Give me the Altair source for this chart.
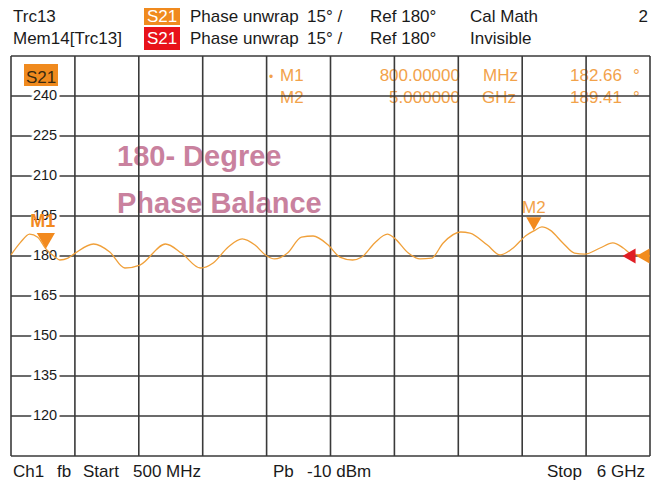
import altair as alt
import pandas as pd

# ---- data ----
freq_ghz = [0.5, 0.58, 0.66, 0.73, 0.8, 0.88, 0.92, 0.99, 1.05, 1.21,
            1.35, 1.48, 1.61, 1.83, 1.97, 2.13, 2.24, 2.37, 2.49, 2.6,
            2.69, 2.77, 2.88, 3.0, 3.1, 3.23, 3.33, 3.44, 3.52, 3.63,
            3.74, 3.8, 3.92, 4.02, 4.12, 4.22, 4.37, 4.45, 4.6, 4.71,
            4.81, 4.94, 5.0, 5.07, 5.14, 5.25, 5.35, 5.44, 5.57, 5.68,
            5.77, 5.83, 6.0]
phase_deg = [180.4, 185.0, 188.2, 187.0, 182.66, 179.6, 178.5, 179.2, 181.0, 184.5,
             181.5, 175.5, 176.6, 184.5, 181.0, 175.5, 177.4, 183.4, 186.4, 184.1,
             180.4, 178.9, 181.1, 187.1, 187.5, 184.1, 179.6, 178.5, 179.6, 184.9,
             188.2, 186.7, 181.1, 178.9, 179.2, 184.9, 189.0, 188.6, 184.1, 180.4,
             182.6, 187.9, 189.41, 190.9, 189.7, 184.9, 181.1, 180.7, 183.0, 184.9,
             183.0, 181.0, 180.0]

x_grid = [0.5, 1.05, 1.6, 2.15, 2.7, 3.25, 3.8, 4.35, 4.9, 5.45, 6.0]
y_grid = [105, 120, 135, 150, 165, 180, 195, 210, 225, 240, 255]
y_labels = [120, 135, 150, 165, 180, 195, 210, 225, 240]

marker_names = ["M1", "M2"]
marker_freq = [0.8, 5.0]
marker_val = [182.66, 189.41]
ref_level = [180]

W, H = 639, 400
FONT = "Liberation Sans"
xs = alt.Scale(domain=[0.5, 6.0], nice=False, zero=False)
ys = alt.Scale(domain=[105, 255], nice=False, zero=False)

trace_df = pd.DataFrame({"f": freq_ghz, "p": phase_deg})
xg_df = pd.DataFrame({"f": x_grid})
yg_df = pd.DataFrame({"p": y_grid})
yl_df = pd.DataFrame({"p": y_labels, "t": [str(v) for v in y_labels]})
mk_df = pd.DataFrame({"m": marker_names, "f": marker_freq, "p": marker_val})
ref_df = pd.DataFrame({"p": ref_level})


def txt(s, x, y, size=17, color="#1a1a1a", align="left", weight="normal"):
    return alt.Chart(pd.DataFrame({"t": [s]})).mark_text(
        align=align, baseline="alphabetic", fontSize=size, color=color,
        fontWeight=weight, font=FONT
    ).encode(text="t:N", x=alt.value(x), y=alt.value(y))


def box(x1, x2, y1, y2, color):
    return alt.Chart(pd.DataFrame({"a": [0]})).mark_rect(color=color).encode(
        x=alt.value(x1), x2=alt.value(x2), y=alt.value(y1), y2=alt.value(y2))


layers = []

# header
layers += [
    txt("Trc13", 2, -34),
    box(133, 169, -53, -31, "#F08A1E"),
    txt("S21", 151, -34, color="white", align="center"),
    txt("Phase unwrap", 179, -34),
    txt("15° /", 296, -34),
    txt("Ref 180°", 359, -34),
    txt("Cal Math", 459, -34),
    txt("2", 637, -34, align="right"),
    txt("Mem14[Trc13]", 2, -12),
    box(133, 169, -29, -6, "#E8121A"),
    txt("S21", 151, -12, color="white", align="center"),
    txt("Phase unwrap", 179, -12),
    txt("15° /", 296, -12),
    txt("Ref 180°", 359, -12),
    txt("Invisible", 459, -12),
]

# footer
FY = 421
layers += [
    txt("Ch1", 2, FY),
    txt("fb", 46, FY),
    txt("Start", 72, FY),
    txt("500 MHz", 122, FY),
    txt("Pb", 262, FY),
    txt("-10 dBm", 296, FY),
    txt("Stop", 536, FY),
    txt("6 GHz", 634, FY, align="right"),
]

# marker table and annotations (under the grid)
MK = "#F2A24A"
layers += [
    txt("•", 258, 25, size=12, color=MK),
    txt("M1", 269, 25, color=MK),
    txt("800.00000", 449, 25, color=MK, align="right"),
    txt("MHz", 472, 25, color=MK),
    txt("182.66", 611, 25, color=MK, align="right"),
    txt("°", 622, 25, color=MK),
    txt("M2", 269, 47, color=MK),
    txt("5.000000", 449, 47, color=MK, align="right"),
    txt("GHz", 471, 47, color=MK),
    txt("189.41", 611, 47, color=MK, align="right"),
    txt("°", 622, 47, color=MK),
    txt("180- Degree", 106, 110, size=29, color="#C9819E", weight="bold"),
    txt("Phase Balance", 106, 157, size=29, color="#C9819E", weight="bold"),
]

# grid
GRID = "#3a3a3a"
layers += [
    alt.Chart(xg_df).mark_rule(color=GRID, strokeWidth=1.6).encode(
        x=alt.X("f:Q", scale=xs, axis=None)),
    alt.Chart(yg_df).mark_rule(color=GRID, strokeWidth=1.6).encode(
        y=alt.Y("p:Q", scale=ys, axis=None)),
]

# y labels with white halo
layers += [
    alt.Chart(yl_df).mark_text(fontSize=14.5, font=FONT, stroke="white", strokeWidth=6,
                               color="white", baseline="middle", align="center").encode(
        y=alt.Y("p:Q", scale=ys, axis=None), x=alt.value(34), text="t:N"),
    alt.Chart(yl_df).mark_text(fontSize=14.5, font=FONT, color="#1a1a1a",
                               baseline="middle", align="center").encode(
        y=alt.Y("p:Q", scale=ys, axis=None), x=alt.value(34), text="t:N"),
]

# S21 badge in plot
layers += [
    box(13, 47, 8, 30, "#F08A1E"),
    txt("S21", 30, 27, color="#3a2a10", align="center"),
]

# trace
layers.append(
    alt.Chart(trace_df).mark_line(color="#F0A03A", strokeWidth=1.3, interpolate="monotone").encode(
        x=alt.X("f:Q", scale=xs, axis=None), y=alt.Y("p:Q", scale=ys, axis=None))
)

# reference arrows
layers += [
    alt.Chart(ref_df).mark_point(shape="triangle-left", size=230, filled=True, color="#E01E24",
                                 opacity=1).encode(
        y=alt.Y("p:Q", scale=ys, axis=None), x=alt.value(618)),
    alt.Chart(ref_df).mark_point(shape="triangle-left", size=230, filled=True, color="#F28C1E",
                                 opacity=1).encode(
        y=alt.Y("p:Q", scale=ys, axis=None), x=alt.value(632)),
]

# markers
m1 = mk_df[mk_df.m == "M1"]
m2 = mk_df[mk_df.m == "M2"]
layers += [
    alt.Chart(m1).mark_point(shape="triangle-down", size=330, filled=True, color="#F28A1E",
                             opacity=1, yOffset=-8).encode(
        x=alt.X("f:Q", scale=xs, axis=None), y=alt.Y("p:Q", scale=ys, axis=None)),
    alt.Chart(m1).mark_text(fontSize=18, font=FONT, fontWeight="bold", color="#F28A1E",
                            baseline="alphabetic", yOffset=-22, dx=-3).encode(
        x=alt.X("f:Q", scale=xs, axis=None), y=alt.Y("p:Q", scale=ys, axis=None), text="m:N"),
    alt.Chart(m2).mark_point(shape="triangle-down", size=230, filled=True, color="#F28A1E",
                             opacity=1, yOffset=-7).encode(
        x=alt.X("f:Q", scale=xs, axis=None), y=alt.Y("p:Q", scale=ys, axis=None)),
    alt.Chart(m2).mark_text(fontSize=17, font=FONT, color="#F2A24A",
                            baseline="alphabetic", yOffset=-18).encode(
        x=alt.X("f:Q", scale=xs, axis=None), y=alt.Y("p:Q", scale=ys, axis=None), text="m:N"),
]

chart = alt.layer(*layers).properties(
    width=W, height=H,
    padding={"left": 3, "top": 48, "right": 1, "bottom": 24},
    autosize=alt.AutoSizeParams(type="none"),
    background="white",
).configure_view(stroke=None)

chart.save("out.html", embed_options={"renderer": "svg", "actions": False})
